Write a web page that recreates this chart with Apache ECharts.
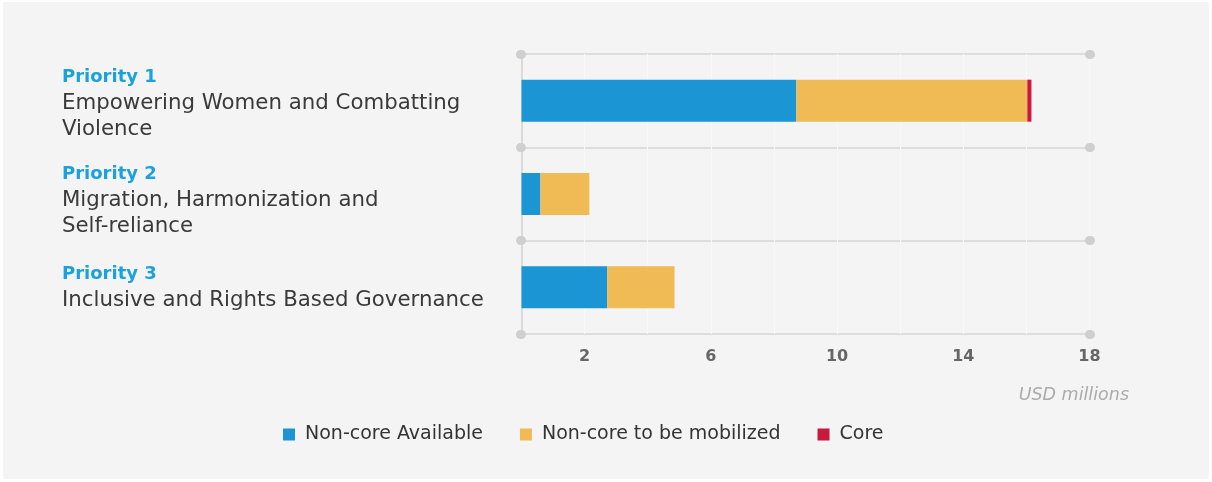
<!DOCTYPE html>
<html>
<head>
<meta charset="utf-8">
<script src="https://cdn.jsdelivr.net/npm/echarts@6/dist/echarts.min.js"></script>
<style>
    html, body { margin: 0; padding: 0; background: #ffffff; }
    #chart { position: absolute; left: 3px; top: 2px; width: 1206px; height: 477px; background: #f4f4f4; }
</style>
</head>
<body>
<div id="chart"></div>
<script>
// 数据
const priorities = ['Priority 1', 'Priority 2', 'Priority 3'];
const descriptions = [
    'Empowering Women and Combatting\nViolence',
    'Migration, Harmonization and\nSelf-reliance',
    'Inclusive and Rights Based Governance',
];
const nonCoreAvailable = [8.71, 0.6, 2.72];
const nonCoreToMobilize = [7.32, 1.55, 2.13];
const core = [0.13, 0, 0];
const xTickLabels = [2, 6, 10, 14, 18];
const unitLabel = 'USD millions';

const FONT = 'DejaVu Sans';
// 标签顶部留白，让文字块略微下移
const labelTopGap = [6, 12, 0];

const chart = echarts.init(document.getElementById('chart'));

const dotTick = {
    show: true,
    length: 1,
    lineStyle: { color: '#cfcfcf', width: 9, cap: 'round' },
};

const option = {
    animation: false,
    textStyle: { fontFamily: FONT },
    grid: {
        left: 518.5,
        width: 568,
        top: 52,
        height: 280,
    },
    legend: {
        left: 275,
        top: 418,
        icon: 'rect',
        itemWidth: 12,
        itemHeight: 12,
        itemGap: 37,
        textStyle: { color: '#333', fontSize: 19, fontFamily: FONT, padding: [0, 0, 0, 5] },
        data: ['Non-core Available', 'Non-core to be mobilized', 'Core'],
    },
    graphic: [
        {
            type: 'text',
            right: 80,
            top: 384,
            style: {
                text: unitLabel,
                fill: '#ababab',
                font: 'italic 17.5px "DejaVu Sans"',
            },
        },
    ],
    xAxis: {
        type: 'value',
        min: 0,
        max: 18,
        interval: 2,
        axisLine: { show: false },
        axisTick: { show: false },
        axisLabel: {
            margin: 15,
            color: '#666',
            fontSize: 16,
            fontWeight: 'bold',
            fontFamily: FONT,
            formatter: (v) => (xTickLabels.includes(v) ? String(v) : ''),
        },
        splitLine: { show: true, lineStyle: { color: '#f8f8f8', width: 1 } },
    },
    yAxis: [
        {
            type: 'category',
            inverse: true,
            data: priorities,
            axisLine: { show: true, lineStyle: { color: '#d2d2d2', width: 1.5 } },
            axisTick: dotTick,
            splitLine: { show: true, lineStyle: { color: '#d6d6d6', width: 1.5 } },
            axisLabel: {
                align: 'left',
                margin: 459.5,
                formatter: (v, i) => {
                    const desc = descriptions[i].split('\n').map((d) => `{desc|${d}}`).join('\n');
                    const gap = labelTopGap[i] ? `{gap${labelTopGap[i]}| }\n` : '';
                    return `${gap}{title|${v}}\n${desc}`;
                },
                rich: {
                    gap6: { fontSize: 1, lineHeight: 6 },
                    gap12: { fontSize: 1, lineHeight: 12 },
                    title: {
                        fontFamily: FONT,
                        fontSize: 18,
                        fontWeight: 'bold',
                        color: '#1ba1dc',
                        lineHeight: 26,
                    },
                    desc: {
                        fontFamily: FONT,
                        fontSize: 21.3,
                        color: '#3a3a3a',
                        lineHeight: 26,
                    },
                },
            },
        },
        {
            type: 'category',
            inverse: true,
            position: 'right',
            data: priorities,
            axisLine: { show: false },
            axisTick: dotTick,
            axisLabel: { show: false },
            splitLine: { show: false },
        },
    ],
    series: [
        {
            name: 'Non-core Available',
            type: 'bar',
            stack: 'total',
            barWidth: 42,
            itemStyle: { color: '#1b95d4' },
            data: nonCoreAvailable,
        },
        {
            name: 'Non-core to be mobilized',
            type: 'bar',
            stack: 'total',
            barWidth: 42,
            itemStyle: { color: '#f0ba55' },
            data: nonCoreToMobilize,
        },
        {
            name: 'Core',
            type: 'bar',
            stack: 'total',
            barWidth: 42,
            itemStyle: { color: '#c8193f' },
            data: core,
        },
    ],
};

chart.setOption(option);
</script>
</body>
</html>
